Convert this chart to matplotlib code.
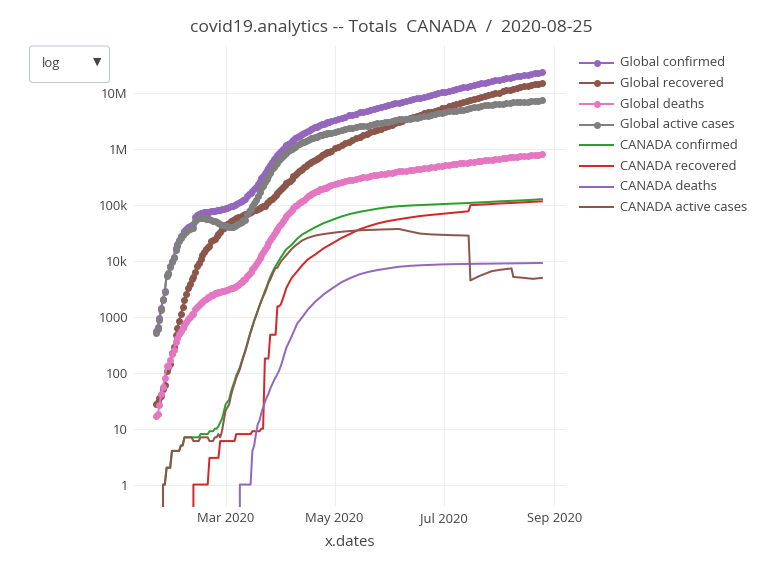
import matplotlib
matplotlib.use('Agg')
import matplotlib.pyplot as plt
import matplotlib.dates as mdates
from matplotlib.patches import FancyBboxPatch
from matplotlib.lines import Line2D
from matplotlib.ticker import FixedLocator, NullLocator
import pandas as pd

plt.rcParams['font.family'] = ['Open Sans', 'DejaVu Sans']

# ----------- Data -----------

# global totals: daily 2020-01-22 .. 2020-04-29, then every 2nd day to 2020-08-25
global_dates = list(pd.date_range('2020-01-22', '2020-04-29')) + \
    list(pd.date_range('2020-05-01', '2020-08-25', freq='2D'))

global_confirmed = [
    # Jan 22-31
    555, 654, 941, 1434, 2118, 2927, 5578, 6166, 8234, 9927,
    # Feb
    12038, 16787, 19887, 23898, 27643, 30802, 34395, 37129, 40159, 42768,
    44810, 45229, 60381, 66909, 69052, 71235, 73270, 75152, 75652, 76212,
    76841, 78602, 78982, 79546, 80399, 81376, 82738, 84122, 86011,
    # Mar
    88371, 90306, 92840, 95120, 97886, 101801, 105847, 109821, 113590, 118620,
    125875, 128352, 145205, 156101, 167454, 181574, 197102, 214821, 242570, 272208,
    304507, 336953, 378235, 418045, 467653, 529591, 593291, 660706, 720117, 782365, 857487,
    # Apr 1-29
    932605, 1013157, 1095917, 1176060, 1249754, 1321481, 1396476, 1479804, 1565278, 1657526,
    1735650, 1834721, 1904838, 1976191, 2056054, 2152437, 2240190, 2317758, 2401378, 2472259,
    2549123, 2624420, 2708885, 2795729, 2881140, 2955033, 3023722, 3097229, 3172287,
    # May (every 2nd day)
    3344000, 3506700, 3662700, 3855800, 4040700, 4176600, 4347000, 4578300,
    4719000, 4895900, 5101500, 5305000, 5497000, 5690200, 5935000, 6158000,
    # Jun
    6365800, 6619000, 6880000, 7081000, 7360000, 7632000, 7864200, 8140000,
    8403000, 8746600, 9050000, 9360000, 9724800, 10055000, 10400000,
    # Jul
    10781700, 11175000, 11544000, 11990200, 12440000, 12850000, 13265800, 13740000,
    14230000, 14626300, 15120000, 15650000, 16128200, 16600000, 17100000,
    # Aug
    17621500, 18100000, 18650000, 19220500, 19730000, 20170000, 20770000,
    21310000, 21760000, 22310000, 22860000, 23320000, 23750000,
]
global_recovered = [
    28, 30, 36, 39, 52, 61, 107, 126, 143, 222,
    284, 472, 623, 852, 1124, 1487, 2011, 2616, 3244, 3946,
    4683, 5150, 6295, 8058, 9395, 10865, 12583, 14352, 16121, 18177,
    18890, 22886, 23394, 25227, 27905, 30384, 33277, 36711, 39782,
    42716, 45602, 48228, 51170, 53796, 55865, 58358, 60694, 62494, 64404,
    67003, 68324, 70251, 72624, 76034, 78088, 80840, 83207, 84854, 87256,
    91499, 97704, 98334, 108000, 113770, 122203, 130915, 139415, 149082, 164566, 178034,
    193177, 210263, 225796, 246152, 260012, 276515, 300054, 328661, 353975, 376096,
    402110, 421722, 448655, 474261, 511019, 542107, 568343, 592319, 623903, 645738,
    680000, 709694, 738486, 793601, 816685, 846936, 879000, 910000, 949000,
    1053000, 1117000, 1198000, 1285000, 1376000, 1459000, 1565000, 1694000,
    1795000, 1915000, 2034000, 2136000, 2242000, 2354000, 2470000, 2640000,
    2754000, 2900000, 3050000, 3213000, 3480000, 3700000, 3860000, 4020000,
    4190000, 4385000, 4560000, 4740000, 4935000, 5090000, 5420000,
    5567000, 5880000, 6230000, 6583000, 6880000, 7150000, 7391000, 7700000,
    8000000, 8183000, 8540000, 8900000, 9237000, 9620000, 10050000,
    10388000, 10850000, 11300000, 11672000, 12000000, 12500000, 12998000,
    13450000, 13870000, 14316000, 14710000, 15060000, 15380000,
]
global_deaths = [
    17, 18, 26, 42, 56, 82, 131, 133, 171, 213,
    259, 362, 426, 492, 564, 634, 719, 806, 906, 1013,
    1113, 1118, 1371, 1523, 1666, 1770, 1868, 2007, 2122, 2247,
    2251, 2458, 2469, 2629, 2708, 2770, 2814, 2872, 2941,
    2996, 3085, 3160, 3254, 3348, 3460, 3558, 3802, 3988, 4262,
    4615, 4720, 5404, 5819, 6440, 7126, 7905, 8733, 9867, 11299,
    12973, 14623, 16497, 18615, 21181, 23970, 27198, 30652, 33925, 37582, 42107,
    46809, 52983, 58787, 64606, 69374, 74565, 81865, 88338, 95455, 102525,
    108503, 114090, 119482, 125984, 134177, 143800, 153821, 159509, 165044, 169986,
    177011, 183027, 190858, 197159, 202846, 206544, 211167, 217153, 227638,
    238600, 247500, 257200, 270700, 279300, 286300, 297200, 308900,
    315200, 323200, 332900, 342100, 346700, 355600, 365100, 373000,
    380200, 392000, 401000, 405000, 415000, 425000, 431000, 442000,
    453000, 461000, 468000, 480000, 492000, 498000, 510000,
    519000, 527000, 535000, 549000, 559000, 568000, 577000, 588000,
    599000, 607000, 620000, 633000, 645000, 655000, 668000,
    680000, 690000, 703000, 715000, 726000, 737000, 749000,
    761000, 773000, 785000, 796000, 806000, 816000,
]
global_active = [
    510, 606, 879, 1353, 2010, 2784, 5340, 5907, 7920, 9492,
    11495, 15953, 18838, 22554, 25955, 28681, 31665, 33707, 36009, 37809,
    39014, 38961, 52715, 57328, 57991, 58600, 58819, 58793, 57409, 55788,
    55700, 53258, 53119, 51690, 49786, 48222, 46647, 44539, 43288,
    42659, 41619, 41452, 40696, 40742, 42476, 43931, 45325, 47108, 49954,
    54257, 55308, 69550, 77658, 84980, 96360, 108357, 122881, 147849, 173653,
    200035, 224626, 263404, 291430, 332702, 383418, 435178, 490639, 537110, 580217, 637346,
    692619, 749911, 811334, 865302, 920368, 970401, 1014557, 1062805, 1115848, 1178905,
    1225037, 1298909, 1336701, 1375946, 1410858, 1466530, 1518026, 1565930, 1612431, 1656535,
    1692112, 1731699, 1779541, 1804969, 1861609, 1901553, 1933555, 1970076, 1995649,
    2052400, 2142200, 2207500, 2300100, 2385400, 2431300, 2484800, 2575400,
    2608800, 2657700, 2734600, 2826900, 2908300, 2980600, 3099900, 3145000,
    3231600, 3327000, 3429000, 3463000, 3465000, 3507000, 3573200, 3678000,
    3760000, 3900600, 4022000, 4140000, 4297800, 4467000, 4470000,
    4695700, 4768000, 4779000, 4858200, 5001000, 5132000, 5297800, 5452000,
    5631000, 5836300, 5960000, 6117000, 6246200, 6325000, 6382000,
    6553500, 6560000, 6647000, 6833500, 7004000, 6933000, 7023000,
    7099000, 7117000, 7209000, 7354000, 7454000, 7554000,
]

# Canada: daily up to 2020-04-04, then sparser
canada_late_dates = [
    '2020-04-07', '2020-04-10', '2020-04-13', '2020-04-16', '2020-04-20', '2020-04-25', '2020-04-30',
    '2020-05-05', '2020-05-10', '2020-05-15', '2020-05-20', '2020-05-25', '2020-05-31',
    '2020-06-06', '2020-06-12', '2020-06-18', '2020-06-24', '2020-06-30',
    '2020-07-06', '2020-07-11', '2020-07-15', '2020-07-16', '2020-07-21', '2020-07-28',
    '2020-08-02', '2020-08-08', '2020-08-09', '2020-08-15', '2020-08-20', '2020-08-25',
]
canada_dates = list(pd.date_range('2020-01-22', '2020-04-04')) + list(pd.to_datetime(canada_late_dates))

canada_confirmed = (
    [0, 0, 0, 0, 1, 1, 2, 2, 2, 4]
    + [4, 4, 4, 4, 5, 5, 7, 7, 7, 7, 7, 7, 7, 7, 7, 8, 8, 8, 8, 8, 9, 9, 9, 10, 10, 11, 13, 15, 20]
    + [27, 30, 33, 45, 57, 70, 90, 105, 125, 160, 200, 250, 320, 420, 540, 680, 860, 1050, 1300, 1600,
       1950, 2350, 2900, 3500, 4300, 5200, 6100, 7100, 8100, 9200, 10400]
    + [11700, 13000, 14600, 16300]
    + [19500, 25000, 30000, 34000, 40000, 48000, 55000, 63000, 70000, 76000, 81000, 86500, 92000,
       96000, 98500, 100500, 102500, 104500, 106500, 108000, 109500, 110000, 112000, 115000,
       117500, 119500, 120000, 122500, 125000, 128000]
)
canada_recovered = (
    [0] * 10
    + [0] * 11 + [1] * 9 + [3] * 6 + [6] * 3
    + [6] * 6 + [8] * 9 + [9] * 5 + [10] * 2 + [180] * 3 + [480] * 4 + [1550] * 2
    + [1700, 2100, 2600, 3300]
    + [5000, 6500, 8500, 10700, 13000, 17000, 21000, 26000, 31000, 37000, 42000, 47000, 52000,
       56000, 60000, 64000, 67000, 70000, 73000, 75500, 78000, 100000, 102000, 105000,
       107500, 109500, 110000, 112500, 115000, 117000]
)
canada_deaths = (
    [0] * 10
    + [0] * 29
    + [0] * 8 + [1] * 7 + [4, 5, 8, 12, 14, 19, 24, 30, 36, 42, 52, 61, 72, 83, 95, 110]
    + [135, 170, 220, 280]
    + [450, 750, 1000, 1350, 1850, 2550, 3300, 4200, 5000, 5800, 6400, 6900, 7400,
       7900, 8200, 8400, 8550, 8700, 8800, 8850, 8900, 8900, 8950, 9000,
       9050, 9100, 9100, 9150, 9200, 9250]
)
canada_active = (
    [0, 0, 0, 0, 1, 1, 2, 2, 2, 4]
    + [4, 4, 4, 4, 5, 5, 7, 7, 7, 7, 7, 6, 6, 6, 6, 7, 7, 7, 7, 7, 6, 6, 6, 7, 7, 8, 7, 9, 14]
    + [21, 24, 27, 39, 51, 64, 82, 97, 116, 151, 191, 241, 311, 410, 531, 667, 846, 1033, 1279, 1577,
       1921, 2316, 2690, 3284, 4078, 4668, 5559, 6548, 7537, 7555, 8740]
    + [9865, 10730, 11780, 12720]
    + [16500, 20000, 23500, 26000, 28500, 30500, 32000, 33500, 34500, 35500, 36000, 36500, 37000,
       37500, 34000, 31000, 30000, 29500, 29000, 28800, 28500, 4500, 5400, 6600,
       7000, 7400, 5200, 5000, 4800, 5000]
)

global_labels = ['Global confirmed', 'Global recovered', 'Global deaths', 'Global active cases']
canada_labels = ['CANADA confirmed', 'CANADA recovered', 'CANADA deaths', 'CANADA active cases']
y_ticks = [1, 10, 100, 1000, 1e4, 1e5, 1e6, 1e7]
y_tick_labels = ['1', '10', '100', '1000', '10k', '100k', '1M', '10M']

# ----------- Figure -----------
W, H = 781, 566
TXT = '#444444'
px = 0.72  # points per pixel at 100 dpi

fig = plt.figure(figsize=(W / 100, H / 100), dpi=100)
ax = fig.add_axes([133 / W, 1 - 507 / H, (566 - 133) / W, (507 - 45) / H])
ax.set_yscale('log')

global_colors = ['#9467bd', '#8c564b', '#e377c2', '#7f7f7f']
canada_colors = ['#2ca02c', '#d62728', '#9467bd', '#8c564b']

handles = []
for vals, lab, col in zip([global_confirmed, global_recovered, global_deaths, global_active],
                          global_labels, global_colors):
    h, = ax.plot(global_dates, vals, color=col, lw=2 * px, marker='o', ms=7 * px, mew=0, label=lab)
    handles.append(h)
for vals, lab, col in zip([canada_confirmed, canada_recovered, canada_deaths, canada_active],
                          canada_labels, canada_colors):
    h, = ax.plot(canada_dates, vals, color=col, lw=2 * px, label=lab)
    handles.append(h)

t0 = pd.Timestamp('2020-03-01')
ax.set_xlim(t0 - pd.Timedelta(days=51.8), t0 + pd.Timedelta(days=190.5))
ax.set_ylim(10 ** -0.402, 10 ** 7.867)

ax.yaxis.set_major_locator(FixedLocator(y_ticks))
ax.yaxis.set_minor_locator(NullLocator())
ax.set_yticklabels(y_tick_labels)
ax.xaxis.set_major_locator(mdates.MonthLocator(bymonth=[3, 5, 7, 9]))
ax.xaxis.set_major_formatter(mdates.DateFormatter('%b %Y'))

for s in ax.spines.values():
    s.set_visible(False)
ax.grid(True, color='#eeeeee', lw=1 * px)
ax.set_axisbelow(True)
ax.tick_params(axis='both', length=0, labelsize=13 * px, labelcolor=TXT)
ax.tick_params(axis='y', pad=5 * px)
ax.tick_params(axis='x', pad=3.5)

ax.set_xlabel('x.dates', fontsize=15 * px, color=TXT)
ax.xaxis.set_label_coords(0.5, -(543 - 507) / 462)
ax.xaxis.label.set_va('center')

fig.text(391 / W, 1 - 32.3 / H, 'covid19.analytics -- Totals  CANADA  /  2020-08-25',
         ha='center', va='baseline', fontsize=17.5 * px, color=TXT)

# legend (drawn by hand to match positions)
for i, h in enumerate(handles):
    yy = 1 - (62.7 + i * 20.66) / H
    fig.add_artist(Line2D([580 / W, 613 / W], [yy, yy], transform=fig.transFigure,
                          color=h.get_color(), lw=2 * px))
    if h.get_marker() == 'o':
        fig.add_artist(Line2D([596.5 / W], [yy], transform=fig.transFigure, color=h.get_color(),
                              marker='o', ms=7 * px, mew=0, ls='none'))
    fig.text(619.5 / W, yy, h.get_label(), ha='left', va='center', fontsize=13 * px, color=TXT)

# dropdown button
box = FancyBboxPatch((29.5 / 100, (H - 82.5) / 100), 80 / 100, 36.5 / 100,
                     boxstyle='round,pad=0,rounding_size=0.03', transform=fig.dpi_scale_trans,
                     facecolor='white', edgecolor='#bec8d9', lw=1 * px)
fig.add_artist(box)
fig.text(42 / W, 1 - 64 / H, 'log', ha='left', va='center', fontsize=13 * px, color=TXT)
fig.text(97 / W, 1 - 62 / H, '\u25bc', ha='center', va='center', fontsize=11 * px, color=TXT,
         family=['DejaVu Sans'])

fig.savefig('out.png', dpi=100)
plt.close(fig)
